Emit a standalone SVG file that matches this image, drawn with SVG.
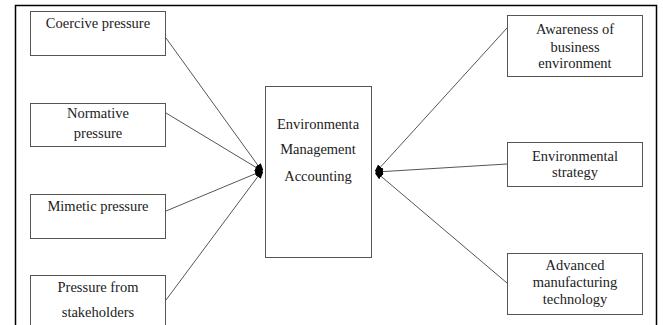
<svg xmlns="http://www.w3.org/2000/svg" width="663" height="325" viewBox="0 0 663 325">
<style>
.box{fill:#fff;stroke:#555;stroke-width:1}
.t{font-family:'Liberation Serif','Times New Roman',serif;font-size:14.5px;fill:#222;text-anchor:middle}
.c{stroke:#555;stroke-width:1;fill:none}
</style>
<defs>
<marker id="ah" markerWidth="9" markerHeight="9" refX="7" refY="4.5" orient="auto" markerUnits="userSpaceOnUse">
<path d="M0,1 L7,3 L7,6 L0,8 Z" fill="#000"/>
</marker>
</defs>
<rect x="0" y="0" width="663" height="325" fill="#fff"/>
<path d="M15.5,325 V5.5 H656.5 V325" fill="none" stroke="#000" stroke-width="1.5"/>
<g id="connectors">
<line class="c" x1="166" y1="38" x2="262" y2="171" marker-end="url(#ah)"/>
<line class="c" x1="166" y1="113" x2="262" y2="171" marker-end="url(#ah)"/>
<line class="c" x1="166" y1="211" x2="262" y2="171" marker-end="url(#ah)"/>
<line class="c" x1="166" y1="300" x2="262" y2="171" marker-end="url(#ah)"/>
<line class="c" x1="507" y1="28" x2="376" y2="172" marker-end="url(#ah)"/>
<line class="c" x1="507" y1="164" x2="376" y2="172" marker-end="url(#ah)"/>
<line class="c" x1="507" y1="283" x2="376" y2="172" marker-end="url(#ah)"/>
</g>
<g id="coercive"><rect class="box" x="30.5" y="11.5" width="135" height="44"/><text class="t" x="98" y="28">Coercive pressure</text></g>
<g id="normative"><rect class="box" x="30.5" y="103.5" width="135" height="43"/><text class="t" x="98" y="118">Normative</text><text class="t" x="98" y="138">pressure</text></g>
<g id="mimetic"><rect class="box" x="30.5" y="194.5" width="135" height="44"/><text class="t" x="98" y="211">Mimetic pressure</text></g>
<g id="stakeholders"><rect class="box" x="30.5" y="275.5" width="135" height="60"/><text class="t" x="98" y="292">Pressure from</text><text class="t" x="98" y="317">stakeholders</text></g>
<g id="ema"><rect class="box" x="265.5" y="86.5" width="106" height="171"/><text class="t" x="318" y="129">Environmenta</text><text class="t" x="318" y="154">Management</text><text class="t" x="318" y="181">Accounting</text></g>
<g id="awareness"><rect class="box" x="507.5" y="15.5" width="135" height="61"/><text class="t" x="575" y="34">Awareness of</text><text class="t" x="575" y="52">business</text><text class="t" x="575" y="68">environment</text></g>
<g id="strategy"><rect class="box" x="507.5" y="142.5" width="135" height="44"/><text class="t" x="575" y="161">Environmental</text><text class="t" x="575" y="177">strategy</text></g>
<g id="amt"><rect class="box" x="507.5" y="253.5" width="135" height="61"/><text class="t" x="575" y="270">Advanced</text><text class="t" x="575" y="287">manufacturing</text><text class="t" x="575" y="304">technology</text></g>
</svg>
